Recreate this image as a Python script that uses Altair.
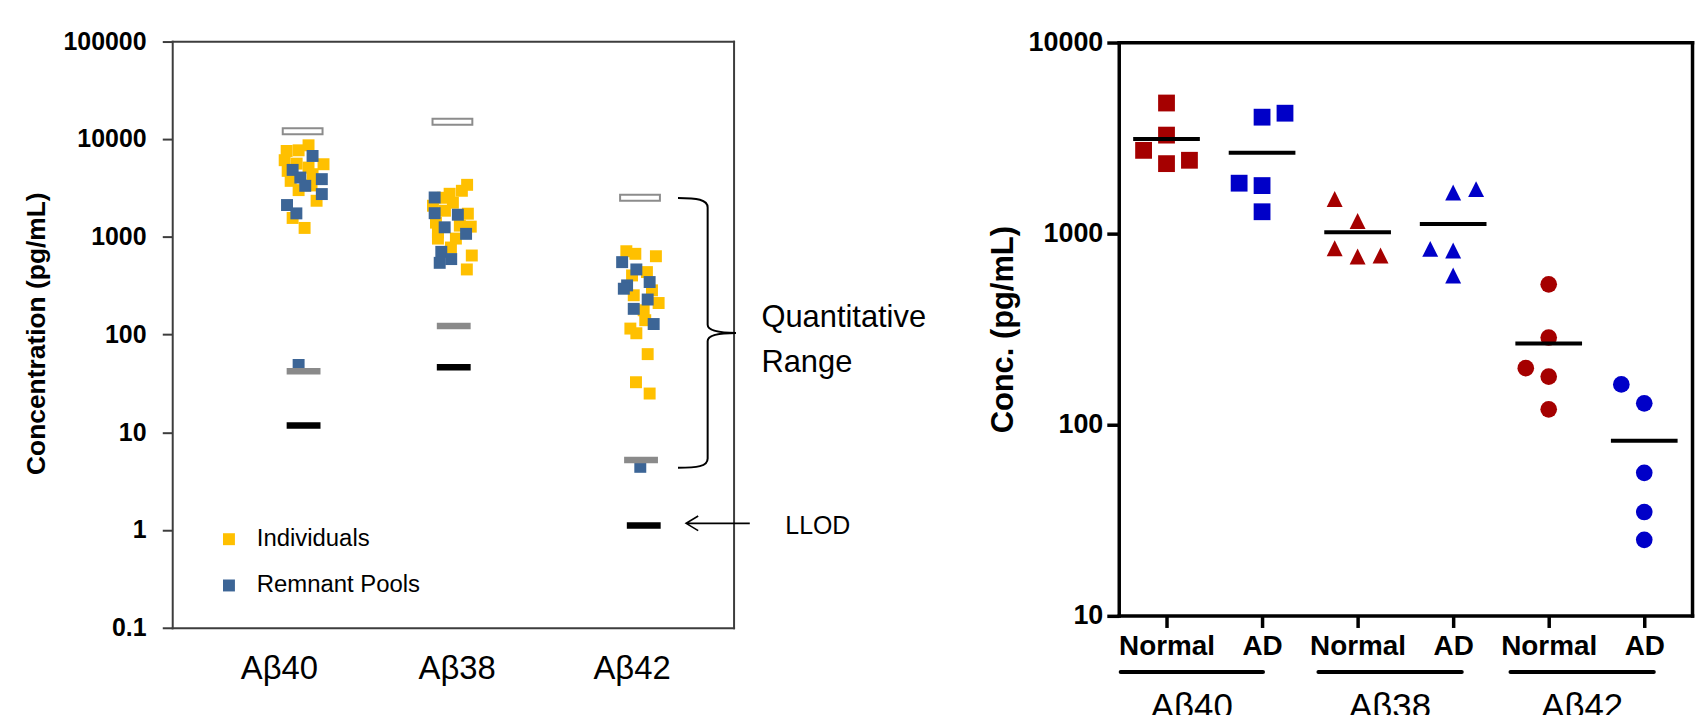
import altair as alt
import pandas as pd

# ================= data: left panel (assay range) =================
peptides = ["Aβ40", "Aβ38", "Aβ42"]
left_label_pos = [1.14, 3.04, 4.91]
left_ticks = [0.1, 1, 10, 100, 1000, 10000, 100000]
kinds = ["Individuals", "Remnant Pools"]
kind_colors = ["#FFC000", "#3C6596"]

ind40_x = [1.457, 1.223, 1.351, 1.202, 1.330, 1.234, 1.457, 1.617, 1.500, 1.266, 1.543, 1.287, 1.415, 1.351, 1.489]
ind40_v = [8620, 7540, 7660, 6070, 5600, 4720, 5100, 5520, 4365, 3730, 2335, 1557, 1231, 3000, 3350]
ind38_x = [3.152, 2.965, 2.894, 3.000, 3.160, 3.191, 2.819, 2.840, 3.032, 2.979, 3.202, 3.149, 2.915, 3.074, 2.840, 3.096, 2.787]
ind38_v = [3398, 2752, 2505, 2228, 1722, 1269, 1394, 958, 958, 776, 643, 463, 1847, 1300, 1103, 2953, 2077]
ind42_x = [4.854, 4.950, 5.170, 5.074, 4.915, 5.128, 5.199, 4.933, 5.039, 5.056, 4.897, 4.961, 5.082, 4.957, 5.103]
ind42_v = [711, 669, 632, 435, 402, 283, 210, 252, 177, 140, 115, 103, 63, 32.5, 24.9]

pool40_x = [1.500, 1.287, 1.369, 1.422, 1.599, 1.599, 1.227, 1.327, 1.351]
pool40_v = [6708, 4831, 4033, 3320, 3885, 2733, 2111, 1734, 48.8]
pool38_x = [2.805, 2.805, 3.053, 2.912, 3.141, 2.876, 2.982, 2.859]
pool38_v = [2523, 1742, 1681, 1249, 1071, 701, 591, 541]
pool42_x = [4.809, 4.961, 4.862, 4.827, 5.103, 5.082, 4.933, 5.146, 5.003]
pool42_v = [550, 463, 318, 294, 344, 228, 183, 128, 4.43]

uloq_x = [1.394, 2.995, 5.000]
uloq_v = [12000, 15000, 2500]
lloq_x = [1.404, 3.009, 5.011]
lloq_v = [42, 122, 5.2]
llod_x = [1.404, 3.009, 5.040]
llod_v = [11.7, 46.3, 1.11]

range_text = "Quantitative\nRange"
range_text_pos = (6.298, 119.7)
llod_text = "LLOD"
llod_text_pos = (6.553, 1.1)
brace_pos = (5.723, 103.7)
arrow_pos = (5.833, 1.17)

# ================= data: right panel (Normal vs AD) =================
conditions = ["Normal", "AD", "Normal", "AD", "Normal", "AD"]
cond_peptide = ["Aβ40", "Aβ40", "Aβ38", "Aβ38", "Aβ42", "Aβ42"]
normal_ab40 = [4808, 3266, 2718, 2316, 2412]
normal_ab40_off = [0, 0, -1, 0, 1]
ad_ab40 = [4054, 4253, 1830, 1778, 1297]
ad_ab40_off = [0, 1, -1, 0, 0]
normal_ab38 = [1511, 1161, 835, 756, 765]
normal_ab38_off = [-1, 0, -1, 0, 1]
ad_ab38 = [1635, 1703, 829, 813, 602]
ad_ab38_off = [0, 1, -1, 0, 0]
normal_ab42 = [541, 285, 197, 178, 120]
normal_ab42_off = [0, 0, -1, 0, 0]
ad_ab42 = [162, 129, 55.8, 34.8, 24.9]
ad_ab42_off = [-1, 0, 0, 0, 0]
group_means = [3113, 2641, 1012, 1120, 265, 82.2]
right_ticks = [10, 100, 1000, 10000]
bracket_start = [0.02, 2.09, 4.10]
bracket_end = [1.51, 3.59, 5.60]
bracket_level = 5.07
bracket_label_level = 2.9

# ================= styling =================
W, H = 1698, 720
SANS = "Liberation Sans, Arial, sans-serif"
FRAME_L = "#3d3d3d"
RED = "#A50000"
BLUE = "#0000C8"
TRIANGLE = "M0,-1L1,1L-1,1Z"
BRACE = ("M-0.22,-1C-0.08,-1 0,-0.99 0,-0.93L0,-0.06C0,-0.02 0.07,0 0.21,0"
         "C0.07,0 0,0.02 0,0.06L0,0.93C0,0.99 -0.08,1 -0.22,1")
ARROW = "M1,0L-1,0M-0.62,-0.23L-1,0L-0.62,0.23"

LX = alt.Scale(domain=[0, 6], range=[165, 729], nice=False, zero=False)
LY = alt.Scale(type="log", domain=[0.1, 100000], range=[621, 31.7], nice=False)
RX = alt.Scale(domain=[0, 6], range=[1116, 1692], nice=False, zero=False)
RY = alt.Scale(type="log", domain=[10, 10000], range=[608.7, 32.7], nice=False)

# ================= tables =================
left_rows = []
for xs, vs in [(ind40_x, ind40_v), (ind38_x, ind38_v), (ind42_x, ind42_v)]:
    left_rows += [dict(x=a, val=b, kind=kinds[0]) for a, b in zip(xs, vs)]
for xs, vs in [(pool40_x, pool40_v), (pool38_x, pool38_v), (pool42_x, pool42_v)]:
    left_rows += [dict(x=a, val=b, kind=kinds[1]) for a, b in zip(xs, vs)]
left_df = pd.DataFrame(left_rows)

uloq_df = pd.DataFrame(dict(x=uloq_x, val=uloq_v))
lloq_df = pd.DataFrame(dict(x=lloq_x, val=lloq_v))
llod_df = pd.DataFrame(dict(x=llod_x, val=llod_v))

shape_map = {"Aβ40": "square", "Aβ38": TRIANGLE, "Aβ42": "circle"}
size_map = {"Aβ40": 285, "Aβ38": 256, "Aβ42": 280}
color_map = {"Normal": RED, "AD": BLUE}
jitter = 0.24
series = [(normal_ab40, normal_ab40_off), (ad_ab40, ad_ab40_off),
          (normal_ab38, normal_ab38_off), (ad_ab38, ad_ab38_off),
          (normal_ab42, normal_ab42_off), (ad_ab42, ad_ab42_off)]
right_rows = []
for i, (vals, offs) in enumerate(series):
    pep, cond = cond_peptide[i], conditions[i]
    for v, o in zip(vals, offs):
        right_rows.append(dict(x=i + 0.5 + o * jitter, val=v, shape=shape_map[pep],
                               size=size_map[pep], color=color_map[cond]))
right_df = pd.DataFrame(right_rows)
mean_df = pd.DataFrame(dict(x=[i + 0.5 for i in range(6)], val=group_means))
bracket_df = pd.DataFrame(dict(x0=bracket_start, x1=bracket_end, val=[bracket_level] * 3,
                               xm=[(a + b) / 2 for a, b in zip(bracket_start, bracket_end)],
                               lv=[bracket_label_level] * 3, label=peptides))

# ================= axes =================
lab_expr = (f"datum.value < {(left_label_pos[0] + left_label_pos[1]) / 2} ? '{peptides[0]}' : "
            f"(datum.value < {(left_label_pos[1] + left_label_pos[2]) / 2} ? '{peptides[1]}' : '{peptides[2]}')")
cond_expr = "[" + ",".join(f"'{c}'" for c in conditions) + "][floor(datum.value)]"
noaxis = dict(labels=False, ticks=False, tickSize=0, grid=False, title=None, domainCap="square")

left_x_axis = alt.Axis(orient="bottom", offset=621 - H, values=left_label_pos, labelExpr=lab_expr,
                       ticks=False, tickSize=0, domainColor=FRAME_L, domainWidth=2, domainCap="square",
                       labelFont=SANS, labelFontSize=33, labelColor="black", labelBaseline="alphabetic",
                       labelPadding=50.5, labelFlush=False, labelOverlap=False, grid=False, title=None)
left_y_axis = alt.Axis(orient="left", offset=-165, values=left_ticks,
                       labelExpr="datum.value < 1 ? '0.1' : format(datum.value, 'd')",
                       tickSize=10, tickWidth=2, tickColor=FRAME_L, domainColor=FRAME_L, domainWidth=2,
                       domainCap="square", labelFont=SANS, labelFontWeight="bold", labelFontSize=25,
                       labelColor="black", labelPadding=16.3, labelFlush=False, labelOverlap=False, grid=False,
                       title="Concentration (pg/mL)", titleFont=SANS, titleFontSize=26.5, titleFontWeight="bold",
                       titleColor="black", titleX=-136.5, titleY=325, titleAngle=270, titleAlign="center",
                       titleBaseline="middle")
left_top_axis = alt.Axis(orient="top", offset=-31.7, domainColor=FRAME_L, domainWidth=2, **noaxis)
left_right_axis = alt.Axis(orient="left", offset=-729, domainColor=FRAME_L, domainWidth=2, **noaxis)

right_x_axis = alt.Axis(orient="bottom", offset=608.7 - H, values=[i + 0.5 for i in range(6)],
                        labelExpr=cond_expr, tickSize=12, tickWidth=3.5, tickColor="black",
                        domainColor="black", domainWidth=3.5, domainCap="square", labelFont=SANS,
                        labelFontWeight="bold", labelFontSize=28, labelColor="black", labelBaseline="alphabetic",
                        labelPadding=27.3, labelFlush=False, labelOverlap=False, grid=False, title=None)
right_y_axis = alt.Axis(orient="left", offset=-1116, values=right_ticks, labelExpr="format(datum.value, 'd')",
                        tickSize=12, tickWidth=3.5, tickColor="black", domainColor="black", domainWidth=3.5,
                        domainCap="square", labelFont=SANS, labelFontWeight="bold", labelFontSize=27,
                        labelColor="black", labelPadding=4, labelFlush=False, labelOverlap=False, grid=False,
                        title="Conc. (pg/mL)", titleFont=SANS, titleFontSize=31, titleFontWeight="bold",
                        titleColor="black", titleX=-116, titleY=321, titleAngle=270, titleAlign="center",
                        titleBaseline="middle")
right_top_axis = alt.Axis(orient="top", offset=-32.7, domainColor="black", domainWidth=3.5, **noaxis)
right_right_axis = alt.Axis(orient="left", offset=-1692, domainColor="black", domainWidth=3.5, **noaxis)

# ================= left layers =================
left_points = alt.Chart(left_df).mark_square(size=144, opacity=1).encode(
    x=alt.X("x:Q", scale=LX, axis=left_x_axis),
    y=alt.Y("val:Q", scale=LY, axis=left_y_axis),
    color=alt.Color("kind:N", scale=alt.Scale(domain=kinds, range=kind_colors),
                    legend=alt.Legend(orient="none", legendX=210, legendY=520, title=None,
                                      symbolType="square", symbolSize=144, symbolStrokeWidth=0,
                                      symbolOpacity=1, labelFont=SANS, labelFontSize=24, labelLimit=0,
                                      labelColor="black", labelOffset=16, rowPadding=22.5, padding=0)),
)
uloq = alt.Chart(uloq_df).mark_tick(orient="horizontal", size=40, thickness=6, fill="white",
                                    stroke="#8c8c8c", strokeWidth=2, opacity=1).encode(
    x=alt.X("x:Q", scale=LX, axis=left_top_axis),
    y=alt.Y("val:Q", scale=LY, axis=left_right_axis),
)
lloq = alt.Chart(lloq_df).mark_tick(orient="horizontal", size=34, thickness=6.5, color="#8a8a8a",
                                    opacity=1).encode(
    x=alt.X("x:Q", scale=LX, axis=None), y=alt.Y("val:Q", scale=LY, axis=None))
llod = alt.Chart(llod_df).mark_tick(orient="horizontal", size=34, thickness=6.5, color="black",
                                    opacity=1).encode(
    x=alt.X("x:Q", scale=LX, axis=None), y=alt.Y("val:Q", scale=LY, axis=None))

range_lbl = alt.Chart(pd.DataFrame(dict(x=[range_text_pos[0]], val=[range_text_pos[1]], t=[range_text]))).mark_text(
    align="left", baseline="alphabetic", font=SANS, fontSize=31, lineBreak="\n", lineHeight=45,
    color="black").encode(x=alt.X("x:Q", scale=LX, axis=None), y=alt.Y("val:Q", scale=LY, axis=None), text="t:N")
llod_lbl = alt.Chart(pd.DataFrame(dict(x=[llod_text_pos[0]], val=[llod_text_pos[1]], t=[llod_text]))).mark_text(
    align="left", baseline="middle", font=SANS, fontSize=25, color="black").encode(
    x=alt.X("x:Q", scale=LX, axis=None), y=alt.Y("val:Q", scale=LY, axis=None), text="t:N")
brace = alt.Chart(pd.DataFrame(dict(x=[brace_pos[0]], val=[brace_pos[1]]))).mark_point(
    shape=BRACE, size=73441, filled=False, color="black", strokeWidth=2, opacity=1).encode(
    x=alt.X("x:Q", scale=LX, axis=None), y=alt.Y("val:Q", scale=LY, axis=None))
arrow = alt.Chart(pd.DataFrame(dict(x=[arrow_pos[0]], val=[arrow_pos[1]]))).mark_point(
    shape=ARROW, size=4096, filled=False, color="black", strokeWidth=1.6, opacity=1).encode(
    x=alt.X("x:Q", scale=LX, axis=None), y=alt.Y("val:Q", scale=LY, axis=None))

# ================= right layers =================
right_points = alt.Chart(right_df).mark_point(filled=True, opacity=1, strokeWidth=0).encode(
    x=alt.X("x:Q", scale=RX, axis=right_x_axis),
    y=alt.Y("val:Q", scale=RY, axis=right_y_axis),
    shape=alt.Shape("shape:N", scale=None),
    size=alt.Size("size:Q", scale=None),
    color=alt.Color("color:N", scale=None),
)
means = alt.Chart(mean_df).mark_tick(orient="horizontal", size=67, thickness=4, color="black", opacity=1).encode(
    x=alt.X("x:Q", scale=RX, axis=right_top_axis),
    y=alt.Y("val:Q", scale=RY, axis=right_right_axis),
)
brackets = alt.Chart(bracket_df).mark_rule(strokeWidth=4, color="black", strokeCap="round").encode(
    x=alt.X("x0:Q", scale=RX, axis=None), x2="x1:Q", y=alt.Y("val:Q", scale=RY, axis=None))
bracket_lbl = alt.Chart(bracket_df).mark_text(font=SANS, fontSize=35, align="center", baseline="alphabetic",
                                              color="black").encode(
    x=alt.X("xm:Q", scale=RX, axis=None), y=alt.Y("lv:Q", scale=RY, axis=None), text="label:N")

chart = alt.layer(
    left_points, uloq, lloq, llod, range_lbl, llod_lbl, brace, arrow,
    right_points, means, brackets, bracket_lbl,
).resolve_scale(
    x="independent", y="independent", color="independent", shape="independent", size="independent"
).properties(
    width=W, height=H, padding=0, autosize=alt.AutoSizeParams(type="none"), background="white"
).configure_view(stroke=None)

chart.save("out.html", embed_options={"renderer": "svg", "actions": False})
